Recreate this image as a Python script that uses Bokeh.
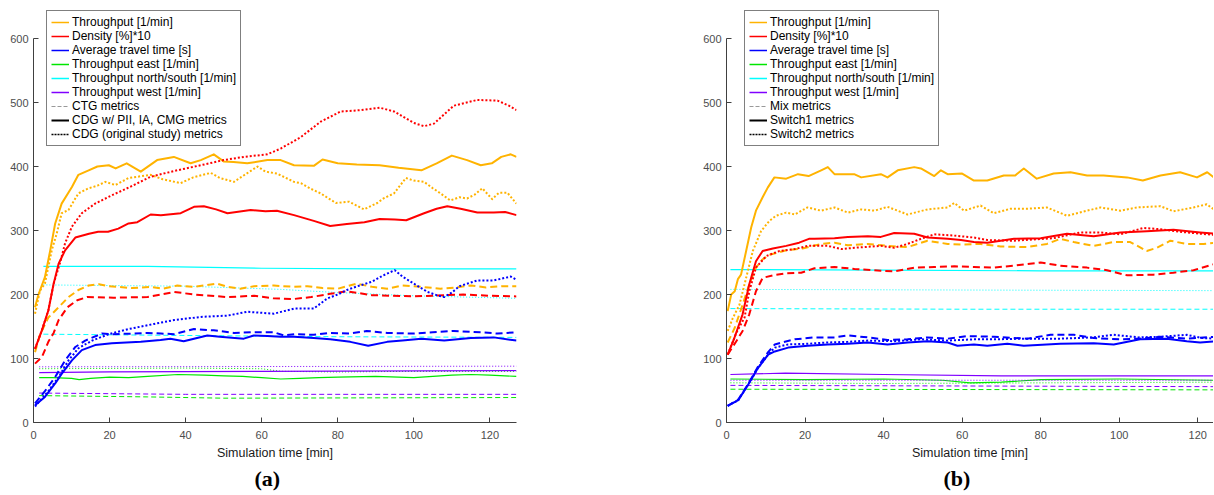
from bokeh.plotting import figure
from bokeh.models import Range1d, FixedTicker, Legend, LegendItem, Title
from bokeh.layouts import row
from bokeh.embed import file_html
from bokeh.resources import INLINE

# ---------------- Panel (a) data ----------------
# Throughput [1/min]
A_THR_PII_T = [0.4,1.3,3,4.4,5.7,7.4,10.1,11.8,14.5,16.8,19.8,21.6,24.5,28.2,32.5,36.9,41.3,44,47.4,50,52.6,56.2,61.5,65,68.5,73.7,76,80,85,91,96,102,106,110,114,117.6,120.5,123,125.5,127]
A_THR_PII_V = [180,200,227,269,311,342,368,387,394,400,402,397,405,392,410,415,405,410,419,408,407,405,410,410,402,401,411,405,403,402,398,394,405,417,410,402,405,415,419,415]
A_THR_ORIG_T = [0.4,1.7,3,4.8,6.1,7.4,9.2,11.8,14.5,16.8,18.9,21.5,25,30.8,34,38.7,42,46.6,49,52.7,55,58.9,61,64,68.5,70.3,73,75.5,79.5,83,86.9,90.4,92,94.8,97.9,100,102.7,105,107,109.6,112,114,116,118,120.6,122.4,124.6,127]
A_THR_ORIG_V = [170,206,217,269,295,327,332,358,366,370,376,371,382,387,380,374,383,390,382,376,385,400,392,389,376,374,365,358,343,345,333,343,350,358,382,378,376,366,358,347,352,350,356,366,349,359,359,342]
A_THR_CTG_T = [0.4,1.7,3.9,6.6,9.2,11.8,14.5,17.2,19.8,22,26,30.8,34,37.8,42,48.3,51,54.4,58,63.2,68.4,72,76,80,85,89,93,97,102,107,111,115,119,123,127]
A_THR_CTG_V = [110,137,164,180,196,207,214,216,213,212,210,212,209,214,212,217,212,209,213,214,212,213,210,209,217,212,209,214,212,209,211,214,211,213,213]
# Density [%]*10
A_DEN_PII_T = [0.4,2.2,3.9,5.3,6.6,8.3,11,14.6,17,19.6,22.3,25,27.3,30.8,33.5,38.7,42.2,44.8,48,51,57.1,61,64,68.5,73.7,78,82.4,87,91,95,98,102.7,106,108.8,112.3,116.7,121,124,127]
A_DEN_PII_V = [115,144,175,217,248,269,289,295,298,298,303,311,313,325,324,327,337,338,333,327,332,330,331,324,315,307,310,313,318,317,316,327,334,338,334,328,328,329,324]
A_DEN_ORIG_T = [0.4,2.2,3.9,5.3,7,8.3,10.1,12.7,16.2,20.6,25,30.8,37,44,50,55.3,61.5,65,70.3,75.5,80.8,86,91,94.8,100,102.7,105.3,110.5,116.7,122,125,127]
A_DEN_ORIG_V = [115,144,175,217,250,280,306,327,342,355,367,384,393,402,410,415,419,428,446,470,486,488,492,486,468,463,467,495,504,503,495,488]
A_DEN_CTG_T = [0.4,2.2,3.9,5.3,6.6,8.9,11.5,14.1,21,30,37,42.2,51,58,63,68.5,73,78,82.4,89,100,113,120,127]
A_DEN_CTG_V = [92,102,126,140,160,180,191,196,195,196,204,200,196,198,194,193,196,201,205,199,197,200,198,197]
# Average travel time [s]
A_ATT_PII_T = [0.4,3,5.7,7.4,10.1,12.7,16.2,20.6,28.2,33.4,36,39.5,42.2,45.7,49,55.3,57.9,61.5,65,68.5,73.7,78,83.3,88,93,97,102,108,115,121,127]
A_ATT_PII_V = [27,40,61,76,97,113,121,124,126,129,131,127,131,136,134,131,136,135,134,134,132,130,126,120,126,128,131,128,132,133,128]
A_ATT_CTG_T = [0.4,3,5.7,8.3,11,13.6,18,21,26.4,30,33.5,37,42.2,47.4,52.7,58,63.2,65.8,69,73.7,78,83,87.6,93,100,105,110.5,117.6,122,127]
A_ATT_CTG_V = [30,49,71,97,118,128,139,138,139,140,139,138,146,144,140,141,141,136,138,137,140,139,143,140,139,141,143,141,139,141]
A_ATT_ORIG_T = [0.4,3.9,6.6,9.2,11.8,15.4,19.8,25,31.7,37,44,51,56.2,63.2,68.5,73.7,77.3,80,82.4,85.2,89,92,95,97,100,103.6,106,108,110,112,116.7,121,125.5,127]
A_ATT_ORIG_V = [25,49,71,97,116,128,138,146,154,160,165,167,173,170,178,178,194,200,207,213,220,230,238,228,217,204,199,196,203,213,222,222,228,223]
# Throughput north/south [1/min]
A_NS_PII_T = [2.6,30,60,90,127]
A_NS_PII_V = [244,244,241,240,240]
A_NS_ORIG_T = [2.6,20,40,65,80,100,127]
A_NS_ORIG_V = [215,214,213,208,203,198,194]
A_NS_CTG_T = [2.6,40,80,127]
A_NS_CTG_V = [138,136,134,133]
# Throughput east [1/min]
A_E_PII_T = [1.5,5,10,12,15,20,25,30,38,45,50,55,60,65,70,75,80,90,100,105,110,115,120,127]
A_E_PII_V = [70,70,69,67,69,71,70,72,75,74,73,72,70,68,69,70,71,72,70,72,74,75,74,72]
A_E_ORIG_T = [1.5,40,60,65,80,100,127]
A_E_ORIG_V = [84,85,84,80,79,80,80]
A_E_CTG_T = [1.5,30,50,127]
A_E_CTG_V = [42,40,38,39]
# Throughput west [1/min]
A_W_PII_T = [1.5,20,60,127]
A_W_PII_V = [78,79,80,81]
A_W_ORIG_T = [1.5,127]
A_W_ORIG_V = [87,88]
A_W_CTG_T = [1.5,40,127]
A_W_CTG_V = [46,44,44]

# ---------------- Panel (b) data ----------------
B_THR_S1_T = [0.3,1.2,2.1,2.9,3.7,5,6.3,7.5,9.2,10.5,12.2,15.2,18.2,20.9,24.1,25.8,27.5,32.5,34.3,39.3,41,43.6,47.8,49.5,52.9,54.6,56.3,60,63,66.4,70.6,73.5,75.7,79,83.3,87.6,91.8,96,102,106,110.5,115.5,119.8,122.4,124.5]
B_THR_S1_V = [174,200,205,224,231,268,305,331,352,367,383,381,388,385,394,399,388,388,383,388,383,394,399,397,385,394,388,389,378,378,386,386,397,381,389,391,386,386,383,378,386,391,383,391,381]
B_THR_S2_T = [0.3,1.6,3.3,5,6.7,8.8,10.9,12.6,15.2,17.4,20.6,24.1,27.5,30.9,34.3,37.7,41,46.1,51.2,56.3,58,60.5,64.7,68.1,72.3,76.5,81.6,86.7,91.8,95.2,100.3,104.5,110.5,113.8,118.9,122.3,124.5]
B_THR_S2_V = [143,163,184,226,268,299,315,323,328,325,336,331,336,328,333,331,337,325,333,336,343,331,339,327,334,334,336,323,331,336,331,336,338,330,336,341,331]
B_THR_MIX_T = [0.3,2.1,4.1,5.8,7.5,9.2,10.9,15.2,19.4,24.1,27.5,30.9,36,41,46.1,51.2,56.3,59.7,64.7,69.8,76.5,81.6,85,88.4,93.5,98.6,102.8,107,109.6,113,117.2,121.4,124.5]
B_THR_MIX_V = [125,148,184,216,242,255,262,269,272,279,281,277,279,276,274,284,279,278,279,275,274,279,287,282,276,282,282,268,273,284,279,279,281]
B_DEN_S1_T = [0.3,2,4.1,5.8,7.5,9.2,11.8,15.2,18.5,21,22.4,27.5,30.9,36,39.3,42.7,47.8,51.2,56.3,59.7,63,66.4,73.2,80,86.7,93.5,100.3,107,113.8,120.6,124.5]
B_DEN_S1_V = [106,132,169,216,252,268,272,276,281,287,287,288,290,291,290,296,295,289,287,285,282,281,287,288,295,291,297,299,301,297,295]
B_DEN_S2_T = [0.3,2.5,4.6,5.8,7.5,10.1,13.5,17.4,20.7,25.8,29.2,32.6,39.3,42.7,46.1,49.5,52.9,58,63,66.4,73.2,83.3,90.1,95.2,100.3,106.2,110.5,115.5,120.6,124.5]
B_DEN_S2_V = [106,140,164,205,242,260,268,271,276,276,271,273,276,273,279,287,294,292,289,285,284,288,297,297,294,304,302,298,295,293]
B_DEN_MIX_T = [0.3,2.5,4.1,5.8,7.5,9.2,11.8,15.2,19,22.4,27.5,32.6,39.3,42.7,47.8,52.9,58,63,68,73.2,80,85,91.8,96.9,102,108.7,113.8,118.9,124.5]
B_DEN_MIX_V = [106,127,143,169,205,226,230,233,234,241,243,240,237,236,242,243,244,243,242,245,250,245,242,238,230,231,234,238,248]
B_ATT_S1_T = [0.3,3,5.5,8,10.6,12.3,15.7,20.7,25.8,30.9,36,41,46.1,51.2,56.3,58.8,63,66.4,71.5,75.7,85,93.5,98.6,105.3,112.1,117.2,120.6,124.5]
B_ATT_S1_V = [26,35,59,85,106,111,117,120,122,123,125,122,125,127,125,120,122,120,123,120,123,124,122,130,131,127,125,127]
B_ATT_MIX_T = [0.3,3,5.5,8,10.6,12.3,14,17.4,22.4,27.5,30.9,36,41,46.1,51.2,56.3,61.4,68.1,76.5,82.5,88.4,93.5,100.3,105.3,110.5,117.2,124.5]
B_ATT_MIX_V = [26,36,60,87,110,122,125,130,133,133,136,133,129,130,133,131,135,134,131,137,137,132,130,131,134,131,134]
B_ATT_S2_T = [0.3,3,5.5,8,10.6,12.3,15.7,20.7,25.8,30.9,36,42.7,49.5,56.3,63,68,76.5,85,93.5,98.6,105,110.5,117.2,121,124.5]
B_ATT_S2_V = [26,35,59,85,106,117,122,123,125,126,128,127,130,128,130,130,131,131,133,137,133,134,137,132,131]
B_NS_S1_T = [1,40,80,124.5]
B_NS_S1_V = [239,238,237,237]
B_NS_S2_T = [1,60,124.5]
B_NS_S2_V = [208,207,206]
B_NS_MIX_T = [1,60,124.5]
B_NS_MIX_V = [178,177,177]
B_W_S1_T = [1,15,40,70,124.5]
B_W_S1_V = [75,77,75,73,73]
B_E_S1_T = [1,20,40,55,62,70,80,100,124.5]
B_E_S1_V = [68,67,68,66,62,63,67,68,66]
B_W_S2_T = [1,124.5]
B_W_S2_V = [66,66]
B_E_S2_T = [1,40,124.5]
B_E_S2_V = [62,61,63]
B_W_MIX_T = [1,124.5]
B_W_MIX_V = [58,56]
B_E_MIX_T = [1,124.5]
B_E_MIX_V = [52,51]

METRIC_LABELS = ["Throughput [1/min]", "Density [%]*10", "Average travel time [s]",
                 "Throughput east [1/min]", "Throughput north/south [1/min]", "Throughput west [1/min]"]
A_METHOD_LABELS = ["CTG metrics", "CDG w/ PII, IA, CMG metrics", "CDG (original study) metrics"]
B_METHOD_LABELS = ["Mix metrics", "Switch1 metrics", "Switch2 metrics"]
X_TICKS = [0, 20, 40, 60, 80, 100, 120]
Y_TICKS = [0, 100, 200, 300, 400, 500, 600]
Y_AXIS_MAX = 600

YELLOW = "#FFB300"
RED = "#FF0000"
BLUE = "#0000FF"
GREEN = "#00E600"
CYAN = "#00FFFF"
PURPLE = "#8000FF"
METRIC_COLORS = [YELLOW, RED, BLUE, GREEN, CYAN, PURPLE]

FONT = "Liberation Sans"
NAN = float("nan")

TOP_BORDER = 4
BOTTOM_BORDER = 72
FIG_H = 494
FRAME_H = FIG_H - TOP_BORDER - BOTTOM_BORDER   # 600 sits 384px above 0


def style(kind, thick):
    if kind == "solid":
        return dict(line_width=2 if thick else 1.2)
    if kind == "dash":
        return dict(line_width=2 if thick else 1, line_dash="7 4" if thick else "5 3")
    return dict(line_width=2 if thick else 1, line_dash="2 2" if thick else "1 2")


def make_fig(width, xmax, left, right, series, method_labels, legend_xy, caption, cap_off):
    p = figure(width=width, height=FIG_H, output_backend="svg", toolbar_location=None,
               x_range=Range1d(0, xmax), y_range=Range1d(0, Y_AXIS_MAX * FRAME_H / 384),
               min_border_left=left, min_border_right=right,
               min_border_top=TOP_BORDER, min_border_bottom=BOTTOM_BORDER)
    p.outline_line_color = None
    p.xgrid.visible = False
    p.ygrid.visible = False
    for ax in (p.xaxis[0], p.yaxis[0]):
        ax.major_tick_in = 5
        ax.major_tick_out = 0
        ax.minor_tick_line_color = None
        ax.axis_line_color = "#404040"
        ax.major_tick_line_color = "#404040"
        ax.major_label_text_font = FONT
        ax.major_label_text_font_size = "11px"
        ax.major_label_text_color = "#4d4d4d"
    p.yaxis.bounds = (0, Y_AXIS_MAX)
    p.xaxis.ticker = FixedTicker(ticks=X_TICKS)
    p.yaxis.ticker = FixedTicker(ticks=Y_TICKS)
    p.xaxis.major_label_standoff = 8
    p.yaxis.major_label_standoff = 5
    p.xaxis.axis_label = "Simulation time [min]"
    p.xaxis.axis_label_text_font = FONT
    p.xaxis.axis_label_text_font_style = "normal"
    p.xaxis.axis_label_text_font_size = "12.5px"
    p.xaxis.axis_label_text_color = "#1a1a1a"
    p.xaxis.axis_label_standoff = 4

    # thin first, thick last
    for t, v, color, kind, thick in sorted(series, key=lambda s: s[4]):
        p.line(t, v, line_color=color, line_join="round", **style(kind, thick))

    items = []
    for lab, col in zip(METRIC_LABELS, METRIC_COLORS):
        r = p.line([0, 1], [NAN, NAN], line_color=col, line_width=1.5)
        items.append(LegendItem(label=lab, renderers=[r]))
    r = p.line([0, 1], [NAN, NAN], line_color="#999999", line_width=1, line_dash="4 2")
    items.append(LegendItem(label=method_labels[0], renderers=[r]))
    r = p.line([0, 1], [NAN, NAN], line_color="black", line_width=2)
    items.append(LegendItem(label=method_labels[1], renderers=[r]))
    r = p.line([0, 1], [NAN, NAN], line_color="black", line_width=1.5, line_dash="2 1")
    items.append(LegendItem(label=method_labels[2], renderers=[r]))

    leg = Legend(items=items, location=legend_xy)
    leg.border_line_color = "black"
    leg.border_line_width = 1
    leg.background_fill_color = "white"
    leg.background_fill_alpha = 1
    leg.label_text_font = FONT
    leg.label_text_font_size = "12px"
    leg.label_text_color = "black"
    leg.label_height = 14
    leg.glyph_height = 14
    leg.glyph_width = 18
    leg.label_standoff = 3
    leg.spacing = 0
    leg.padding = 4
    leg.margin = 0
    p.add_layout(leg)

    p.add_layout(Title(text=caption, align="left", offset=cap_off,
                       text_font="Liberation Serif", text_font_style="bold",
                       text_font_size="22px", text_color="black", standoff=2), "below")
    return p


A_SERIES = [
    (A_THR_PII_T, A_THR_PII_V, YELLOW, "solid", True),
    (A_THR_ORIG_T, A_THR_ORIG_V, YELLOW, "dot", True),
    (A_THR_CTG_T, A_THR_CTG_V, YELLOW, "dash", True),
    (A_DEN_PII_T, A_DEN_PII_V, RED, "solid", True),
    (A_DEN_ORIG_T, A_DEN_ORIG_V, RED, "dot", True),
    (A_DEN_CTG_T, A_DEN_CTG_V, RED, "dash", True),
    (A_ATT_PII_T, A_ATT_PII_V, BLUE, "solid", True),
    (A_ATT_CTG_T, A_ATT_CTG_V, BLUE, "dash", True),
    (A_ATT_ORIG_T, A_ATT_ORIG_V, BLUE, "dot", True),
    (A_NS_PII_T, A_NS_PII_V, CYAN, "solid", False),
    (A_NS_ORIG_T, A_NS_ORIG_V, CYAN, "dot", False),
    (A_NS_CTG_T, A_NS_CTG_V, CYAN, "dash", False),
    (A_E_PII_T, A_E_PII_V, GREEN, "solid", False),
    (A_E_ORIG_T, A_E_ORIG_V, GREEN, "dot", False),
    (A_E_CTG_T, A_E_CTG_V, GREEN, "dash", False),
    (A_W_PII_T, A_W_PII_V, PURPLE, "solid", False),
    (A_W_ORIG_T, A_W_ORIG_V, PURPLE, "dot", False),
    (A_W_CTG_T, A_W_CTG_V, PURPLE, "dash", False),
]

B_SERIES = [
    (B_THR_S1_T, B_THR_S1_V, YELLOW, "solid", True),
    (B_THR_S2_T, B_THR_S2_V, YELLOW, "dot", True),
    (B_THR_MIX_T, B_THR_MIX_V, YELLOW, "dash", True),
    (B_DEN_S1_T, B_DEN_S1_V, RED, "solid", True),
    (B_DEN_S2_T, B_DEN_S2_V, RED, "dot", True),
    (B_DEN_MIX_T, B_DEN_MIX_V, RED, "dash", True),
    (B_ATT_S1_T, B_ATT_S1_V, BLUE, "solid", True),
    (B_ATT_MIX_T, B_ATT_MIX_V, BLUE, "dash", True),
    (B_ATT_S2_T, B_ATT_S2_V, BLUE, "dot", True),
    (B_NS_S1_T, B_NS_S1_V, CYAN, "solid", False),
    (B_NS_S2_T, B_NS_S2_V, CYAN, "dot", False),
    (B_NS_MIX_T, B_NS_MIX_V, CYAN, "dash", False),
    (B_E_S1_T, B_E_S1_V, GREEN, "solid", False),
    (B_E_S2_T, B_E_S2_V, GREEN, "dot", False),
    (B_E_MIX_T, B_E_MIX_V, GREEN, "dash", False),
    (B_W_S1_T, B_W_S1_V, PURPLE, "solid", False),
    (B_W_S2_T, B_W_S2_V, PURPLE, "dot", False),
    (B_W_MIX_T, B_W_MIX_V, PURPLE, "dash", False),
]

pa = make_fig(700, 127, 33, 184, A_SERIES, A_METHOD_LABELS, (13, 276), "(a)", 221)
pb = make_fig(513, 124.0, 25, 0, B_SERIES, B_METHOD_LABELS, (18, 276), "(b)", 217)

layout = row(pa, pb)
open("out.html", "w").write(file_html(layout, INLINE))
